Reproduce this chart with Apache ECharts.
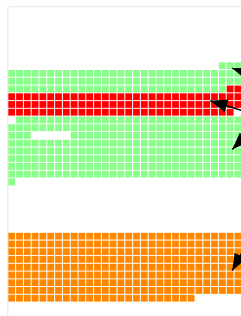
<!DOCTYPE html>
<html>
<head>
<meta charset="utf-8">
<script src="https://cdn.jsdelivr.net/npm/echarts@6/dist/echarts.min.js"></script>
<style>
  html, body { margin: 0; padding: 0; background: #fff; }
  #chart { width: 241px; height: 316px; }
</style>
</head>
<body>
<div id="chart"></div>
<script>
// one string per grid row, one letter per cell: g = green, r = red, o = orange, . = empty
const waffleRows = [
  '', '', '', '', '', '', '',
  '..........' + '..........' + '.......ggg',
  'gggggggggg' + 'gggggggggg' + 'gggggggggg',
  'gggggggggg' + 'gggggggggg' + 'gggggggggg',
  'gggggggggg' + 'gggggggggg' + 'ggggggggrr',
  'rrrrrrrrrr' + 'rrrrrrrrrr' + 'rrrrrrrrrr',
  'rrrrrrrrrr' + 'rrrrrrrrrr' + 'rrrrrrrrrr',
  'rrrrrrrrrr' + 'rrrrrrrrrr' + 'rrrrrrrrr.',
  '.ggggggggg' + 'gggggggggg' + 'gggggggggg',
  'gggggggggg' + 'gggggggggg' + 'gggggggggg',
  'ggg.....gg' + 'gggggggggg' + 'gggggggggg',
  'gggggggggg' + 'gggggggggg' + 'gggggggggg',
  'gggggggggg' + 'gggggggggg' + 'gggggggggg',
  'gggggggggg' + 'gggggggggg' + 'gggggggggg',
  'gggggggggg' + 'gggggggggg' + 'gggggggggg',
  'gggggggggg' + 'gggggggggg' + 'gggggggggg',
  'g',
  '', '', '', '', '', '',
  'oooooooooo' + 'oooooooooo' + 'oooooooooo',
  'oooooooooo' + 'oooooooooo' + 'oooooooooo',
  'oooooooooo' + 'oooooooooo' + 'oooooooooo',
  'oooooooooo' + 'oooooooooo' + 'oooooooooo',
  'oooooooooo' + 'oooooooooo' + 'oooooooooo',
  'oooooooooo' + 'oooooooooo' + 'oooooooooo',
  'oooooooooo' + 'oooooooooo' + 'oooooooooo',
  'oooooooooo' + 'oooooooooo' + 'oooooooooo',
  'oooooooooo' + 'oooooooooo' + 'oooo'
]

// annotation arrows, in cell units [column, row]
const arrowTails = [[33.1, 9.0], [34.4, 14.3], [33.4, 12.7], [30.7, 28.9]]
const arrowTips = [[28.28, 7.34], [25.46, 11.52], [28.28, 17.79], [28.28, 33.45]]

const cellColors = { g: '#88ff88', r: '#ff0000', o: '#ff8800' }

function cellsOf(letter) {
  const cells = []
  waffleRows.forEach((row, r) => {
    for (let c = 0; c < row.length; c++) {
      if (row[c] === letter) cells.push([c, r])
    }
  })
  return cells
}

const chart = echarts.init(document.getElementById('chart'), null, { renderer: 'canvas' })

const series = Object.keys(cellColors).map(letter => ({
  type: 'scatter',
  data: cellsOf(letter),
  symbol: 'rect',
  symbolSize: 6.8,
  itemStyle: { color: cellColors[letter], opacity: 1 },
  silent: true,
  animation: false,
  progressive: 0
}))

series[0].markLine = {
  silent: true,
  animation: false,
  lineStyle: { color: '#000', width: 1.6, type: 'solid', opacity: 1 },
  itemStyle: { color: '#000' },
  label: { show: false },
  emphasis: { disabled: true },
  data: arrowTips.map((tip, i) => [
    { coord: arrowTails[i], symbol: 'none' },
    { coord: tip, symbol: 'triangle', symbolSize: [13, 17], symbolOffset: [0, 8.5] }
  ])
}

chart.setOption({
  animation: false,
  grid: {
    show: true,
    left: 7.8,
    top: 6.8,
    width: 280.8,
    height: 314.65,
    borderColor: '#e4e4e4',
    borderWidth: 1,
    outerBoundsMode: 'none'
  },
  xAxis: { type: 'value', min: -0.5, max: 35.5, show: false },
  yAxis: { type: 'value', min: -0.6, max: 40, inverse: true, show: false },
  series: series
})
</script>
</body>
</html>
